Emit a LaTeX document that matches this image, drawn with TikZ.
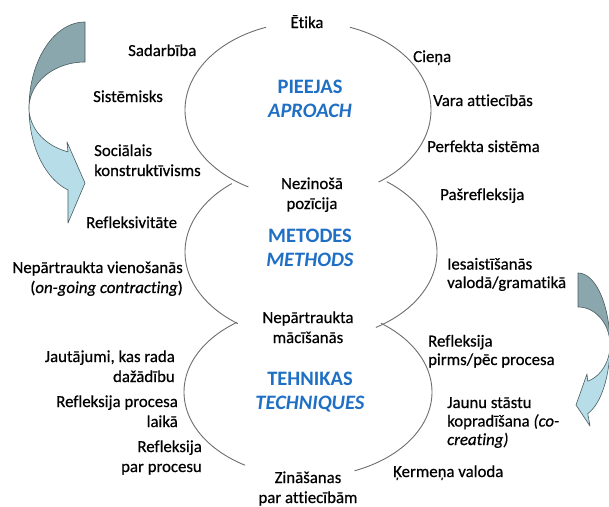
\documentclass[tikz,border=0pt]{standalone}
\usepackage{fontspec}
\setmainfont{Carlito}[Ligatures=NoCommon]
\newfontfamily\semibold{Carlito}[FakeBold=0.5,Ligatures=NoCommon]
\definecolor{arrowlight}{HTML}{B7DEE8}
\definecolor{arrowdark}{HTML}{8AA7AD}
\definecolor{arrowedge}{HTML}{4A5C60}
\definecolor{arcgray}{HTML}{6E6E6E}
\definecolor{headblue}{HTML}{1F6FC5}
\tikzset{
  lbl/.style={inner sep=0pt, text=black, font=\semibold\fontsize{16.8}{20}\selectfont},
  tightlbl/.style={lbl, font=\semibold\fontsize{16.8}{18.5}\selectfont},
  headlbl/.style={inner sep=0pt, text=headblue, align=center, font=\fontsize{20.5}{24}\selectfont\bfseries},
  arcline/.style={draw=arcgray, line width=0.9pt},
  backpart/.style={fill=arrowdark, draw=arrowedge, line width=0.6pt, line join=round},
  frontpart/.style={fill=arrowlight, draw=arrowedge, line width=0.6pt, line join=round}
}
\begin{document}
\begin{tikzpicture}[x=1pt,y=-1pt]
\useasboundingbox (0,0) rectangle (609,506);
\fill[white] (0,0) rectangle (609,506);
\clip (0,0) rectangle (609,506);
% three stacked ellipses, only side arcs drawn
\draw[arcline] plot[domain=119:250,samples=60,smooth] ({308+123*cos(\x)},{110+88*sin(\x)});
\draw[arcline] plot[domain=-70:55,samples=60,smooth] ({308+123*cos(\x)},{110+88*sin(\x)});
\draw[arcline] plot[domain=125.5:231,samples=60,smooth] ({311+126*cos(\x)},{252+88*sin(\x)});
\draw[arcline] plot[domain=-53:59,samples=60,smooth] ({311+126*cos(\x)},{252+88*sin(\x)});
\draw[arcline] plot[domain=120.5:235,samples=60,smooth] ({308+124*cos(\x)},{392+85*sin(\x)});
\draw[arcline] plot[domain=-54:68,samples=60,smooth] ({308+124*cos(\x)},{392+85*sin(\x)});
% left curved arrow
\filldraw[backpart] plot[domain=0:90,samples=40,smooth] ({85+56*cos(-90-\x)},{108+86*sin(-90-\x)})
  -- plot[domain=180:270,samples=40,smooth] ({85+56*cos(\x)},{108+46*sin(\x)}) -- cycle;
\filldraw[frontpart] plot[domain=0:72.3,samples=40,smooth] ({85+56*cos(180-\x)},{108+86*sin(180-\x)})
  -- (68,223) -- (85,183) -- (67,142)
  -- plot[domain=107.7:180,samples=40,smooth] ({85+56*cos(\x)},{108+46*sin(\x)}) -- cycle;
% right curved arrow
\filldraw[backpart] plot[domain=0:90,samples=40,smooth] ({578-32*cos(-90-\x)},{345+72*sin(-90-\x)})
  -- plot[domain=180:270,samples=40,smooth] ({578-32*cos(\x)},{345+38*sin(\x)}) -- cycle;
\filldraw[frontpart] plot[domain=0:72.3,samples=40,smooth] ({578-32*cos(180-\x)},{345+72*sin(180-\x)})
  -- (590,426) -- (576,405) -- (587,374)
  -- plot[domain=107.7:180,samples=40,smooth] ({578-32*cos(\x)},{345+38*sin(\x)}) -- cycle;
% left labels (multi-line nodes are anchored at the baseline of their last line)
\node[lbl, anchor=base west] (sadarbiba) at (128,56) {Sadarbība};
\node[lbl, anchor=base west] (sistemisks) at (93,102) {Sistēmisks};
\node[lbl, anchor=base west, align=left] (socialais) at (94,176) {Sociālais\\konstruktīvisms};
\node[lbl, anchor=base west] (refleksivitate) at (86,228) {Refleksivitāte};
\node[lbl, anchor=base east, align=right] (vienosanas) at (183,293) {Nepārtraukta vienošanās\\(\textit{on-going contracting})};
\node[lbl, anchor=base east, align=right] (jautajumi) at (175,382) {Jautājumi, kas rada\\dažādību};
\node[lbl, anchor=base east, align=right] (laika) at (178,427) {Refleksija procesa\\laikā};
\node[lbl, anchor=base east, align=right] (parprocesu) at (202,472) {Refleksija\\par procesu};
% centre labels
\node[lbl, anchor=base] (etika) at (307,28) {Ētika};
\node[headlbl, anchor=base] (pieejas) at (310,117) {PIEEJAS\\\textit{APROACH}};
\node[lbl, anchor=base, align=center] (nezinosa) at (312,209) {Nezinošā\\pozīcija};
\node[headlbl, anchor=base] (metodes) at (310,266) {METODES\\\textit{METHODS}};
\node[lbl, anchor=base, align=center] (macisanas) at (308,343) {Nepārtraukta\\mācīšanās};
\node[headlbl, anchor=base] (tehnikas) at (310,409) {TEHNIKAS\\\textit{TECHNIQUES}};
\node[lbl, anchor=base, align=center] (zinasanas) at (308,503) {Zināšanas\\par attiecībām};
% right labels
\node[lbl, anchor=base west] (ciena) at (413,62) {Cieņa};
\node[lbl, anchor=base west] (vara) at (433,106) {Vara attiecībās};
\node[lbl, anchor=base west] (perfekta) at (427,152) {Perfekta sistēma};
\node[lbl, anchor=base west] (pasrefleksija) at (440,200) {Pašrefleksija};
\node[tightlbl, anchor=base west, align=left] (iesaistisanas) at (447,288) {Iesaistīšanās\\valodā/gramatikā};
\node[tightlbl, anchor=base west, align=left] (pirmspec) at (428,365) {Refleksija\\pirms/pēc procesa};
\node[tightlbl, anchor=base west, align=left] (jaunu) at (447,445) {Jaunu stāstu\\kopradīšana \textit{(co-}\\\textit{creating)}};
\node[lbl, anchor=base west] (kermena) at (393,477) {Ķermeņa valoda};
\end{tikzpicture}
\end{document}
